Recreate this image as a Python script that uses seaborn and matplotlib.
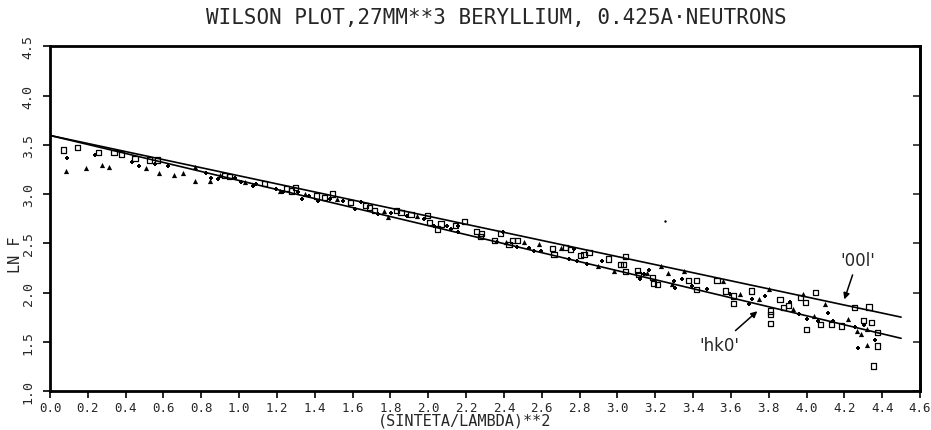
import matplotlib
matplotlib.use("Agg")
import matplotlib.pyplot as plt
import seaborn as sns
import pandas as pd

# ---- data ----
sq_x = [0.07, 0.144, 0.255, 0.338, 0.378, 0.449, 0.528, 0.568, 0.923, 0.95, 1.135, 1.249, 1.275, 1.30,
        1.407, 1.45, 1.495, 1.59, 1.67, 1.69, 1.715, 1.83, 1.856, 1.909, 1.996, 2.005, 2.05, 2.067, 2.146,
        2.19, 2.257, 2.28, 2.275, 2.384, 2.35, 2.427, 2.445, 2.47, 2.656, 2.665, 2.727, 2.753, 2.806, 2.823,
        2.85, 2.955, 3.043, 3.017, 3.034, 3.043, 3.105, 3.113, 3.184, 3.193, 3.21, 3.377, 3.42, 3.42, 3.527,
        3.57, 3.615, 3.615, 3.71, 3.81, 3.81, 3.81, 3.86, 3.879, 3.905, 3.967, 3.993, 4.046, 4.00, 4.072,
        4.133, 4.186, 4.253, 4.33, 4.30, 4.345, 4.376, 4.376, 4.354]
sq_y = [3.447, 3.475, 3.424, 3.424, 3.407, 3.363, 3.346, 3.346, 3.186, 3.18, 3.11, 3.06, 3.03, 3.07,
        2.98, 2.966, 3.0, 2.915, 2.88, 2.865, 2.83, 2.83, 2.81, 2.796, 2.78, 2.712, 2.644, 2.695, 2.678,
        2.718, 2.62, 2.603, 2.57, 2.603, 2.532, 2.49, 2.525, 2.532, 2.447, 2.39, 2.458, 2.433, 2.372, 2.39,
        2.407, 2.34, 2.366, 2.288, 2.288, 2.21, 2.22, 2.186, 2.152, 2.095, 2.085, 2.118, 2.118, 2.034, 2.118,
        2.016, 1.965, 1.888, 2.016, 1.813, 1.78, 1.688, 1.932, 1.847, 1.87, 1.95, 1.898, 2.0, 1.627, 1.677,
        1.677, 1.66, 1.847, 1.853, 1.718, 1.695, 1.593, 1.457, 1.253]

pl_x = [0.088, 0.24, 0.434, 0.471, 0.554, 0.624, 0.827, 0.85, 0.888, 0.976, 1.01, 1.073, 1.09, 1.196,
        1.231, 1.31, 1.33, 1.372, 1.416, 1.478, 1.548, 1.61, 1.645, 1.733, 1.803, 1.89, 1.979, 2.03, 2.10,
        2.12, 2.155, 2.155, 2.397, 2.366, 2.47, 2.533, 2.56, 2.595, 2.77, 2.744, 2.788, 2.84, 2.92, 3.12,
        3.14, 3.166, 3.298, 3.307, 3.342, 3.395, 3.473, 3.597, 3.694, 3.71, 3.78, 3.914, 3.958, 4.00, 4.063,
        4.116, 4.142, 4.256, 4.305, 4.36, 4.27]
pl_y = [3.363, 3.40, 3.322, 3.282, 3.305, 3.282, 3.214, 3.16, 3.15, 3.16, 3.12, 3.085, 3.10, 3.05,
        3.02, 3.02, 2.95, 2.98, 2.93, 2.95, 2.93, 2.85, 2.915, 2.796, 2.81, 2.78, 2.745, 2.678, 2.678,
        2.644, 2.678, 2.61, 2.61, 2.515, 2.458, 2.447, 2.42, 2.42, 2.44, 2.34, 2.32, 2.288, 2.32, 2.135,
        2.186, 2.23, 2.118, 2.05, 2.135, 2.067, 2.034, 1.98, 1.88, 1.932, 1.966, 1.908, 1.78, 1.728, 1.711,
        1.796, 1.711, 1.65, 1.67, 1.515, 1.44]

tr_x = [0.083, 0.19, 0.276, 0.313, 0.505, 0.577, 0.654, 0.703, 0.765, 0.765, 0.844, 0.897, 1.03, 1.214,
        1.346, 1.52, 1.768, 1.786, 1.943, 2.41, 2.507, 2.586, 2.70, 2.90, 2.98, 3.157, 3.228, 3.27, 3.29,
        3.35, 3.56, 3.65, 3.747, 3.80, 3.93, 3.984, 4.037, 4.098, 4.221, 4.265, 4.29, 4.32, 4.318]
tr_y = [3.237, 3.264, 3.298, 3.278, 3.264, 3.21, 3.193, 3.213, 3.27, 3.135, 3.135, 3.19, 3.12, 3.03,
        3.0, 2.95, 2.83, 2.763, 2.78, 2.51, 2.515, 2.49, 2.447, 2.27, 2.22, 2.203, 2.27, 2.203, 2.085,
        2.22, 2.118, 1.98, 1.932, 2.034, 1.83, 1.982, 1.762, 1.88, 1.728, 1.61, 1.575, 1.627, 1.467]

stray_x = [3.254]
stray_y = [2.728]

fit_x = [0.0, 4.5]
fit_00l = [3.595, 1.75]
fit_hk0 = [3.595, 1.535]

x_ticks = [round(0.2 * i, 1) for i in range(24)]
y_ticks = [1.0, 1.5, 2.0, 2.5, 3.0, 3.5, 4.0, 4.5]

title = "WILSON PLOT,27MM**3 BERYLLIUM, 0.425A\u00b7NEUTRONS"
xlabel = "(SINTETA/LAMBDA)**2"
ylabel = "LN F"

# ---- plot ----
sns.set_style("ticks")
plt.rcParams["font.family"] = ["DejaVu Sans Mono", "DejaVu Sans"]

fig = plt.figure(figsize=(9.31, 4.31), dpi=100)
ax = fig.add_axes([50 / 931, 1 - 392 / 431, 870 / 931, (392 - 47.3) / 431])

sns.lineplot(x=fit_x, y=fit_00l, ax=ax, color="black", linewidth=1.2)
sns.lineplot(x=fit_x, y=fit_hk0, ax=ax, color="black", linewidth=1.2)

sns.scatterplot(x=sq_x, y=sq_y, ax=ax, marker="s", s=14, facecolor="none",
                edgecolor="black", linewidth=0.9)
sns.scatterplot(x=pl_x, y=pl_y, ax=ax, marker="P", s=12, color="black", linewidth=0)
sns.scatterplot(x=tr_x, y=tr_y, ax=ax, marker="^", s=14, color="black", linewidth=0)
sns.scatterplot(x=stray_x, y=stray_y, ax=ax, marker="o", s=3, color="black", linewidth=0)

ax.set_xlim(0.0, 4.6)
ax.set_ylim(1.0, 4.5)
ax.set_xticks(x_ticks)
ax.set_xticklabels([f"{v:.1f}" for v in x_ticks], fontsize=9)
ax.set_yticks(y_ticks)
ax.set_yticklabels([f"{v:.1f}" for v in y_ticks], fontsize=9.5, rotation=90, va="center")
ax.tick_params(axis="both", direction="out", length=5, width=1.2, color="black")
ax.tick_params(axis="x", pad=2)
ax.tick_params(axis="y", pad=6)

# inward ticks on the right frame
sec = ax.secondary_yaxis("right")
sec.set_yticks(y_ticks)
sec.tick_params(direction="in", length=5, width=1.2, labelright=False)
sec.spines["right"].set_linewidth(2.0)

for sp in ax.spines.values():
    sp.set_linewidth(2.0)
    sp.set_color("black")

ax.set_xlabel(xlabel, fontsize=11)
ax.xaxis.set_label_coords((465 - 50) / 870, -(421 - 392) / (392 - 47.3), transform=ax.transAxes)
ax.xaxis.label.set_va("center")
ax.set_ylabel(ylabel, fontsize=11)
ax.yaxis.set_label_coords(-(50 - 15) / 870, (392 - 255) / (392 - 47.3), transform=ax.transAxes)
ax.yaxis.label.set_va("center")
fig.text(496 / 931, 1 - 18 / 431, title, ha="center", va="center", fontsize=15)

ax.annotate("'00l'", xy=(4.20, 1.93), xytext=(4.27, 2.33), ha="center", va="center",
            fontsize=12, family="DejaVu Sans",
            arrowprops=dict(arrowstyle="-|>", color="black", lw=1.1, mutation_scale=9,
                            shrinkA=2, shrinkB=0))
ax.annotate("'hk0'", xy=(3.74, 1.81), xytext=(3.54, 1.47), ha="center", va="center",
            fontsize=12, family="DejaVu Sans",
            arrowprops=dict(arrowstyle="-|>", color="black", lw=1.1, mutation_scale=9,
                            shrinkA=2, shrinkB=0))

fig.savefig("out.png", dpi=100)
